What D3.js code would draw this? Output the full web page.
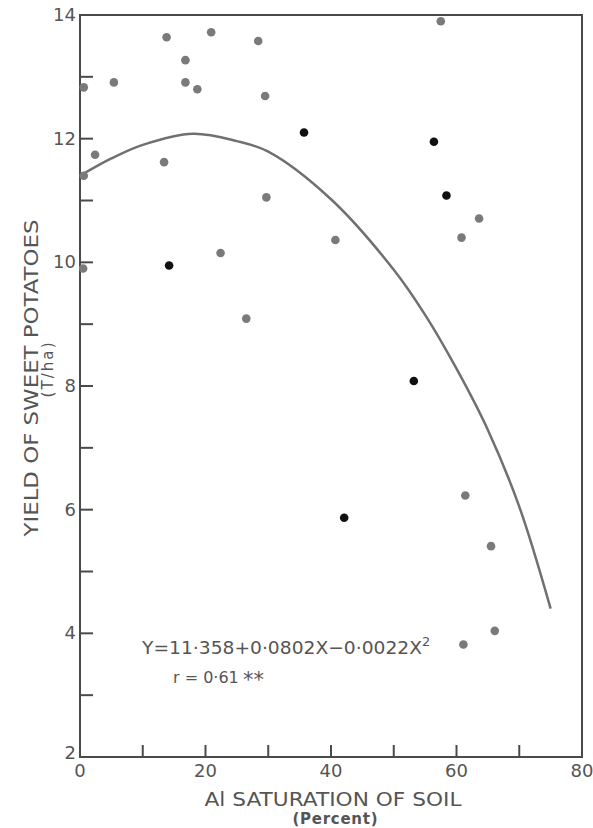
<!DOCTYPE html>
<meta charset="utf-8">
<html lang="en">
<head>
    <title>Yield of sweet potatoes vs Al saturation</title>
    <script src="https://d3js.org/d3.v7.min.js"></script>
    <style>
        body { margin: 0; background: #fff; }
        text { font-family: "DejaVu Sans", sans-serif; fill: #555; }
    </style>
</head>
<body>
    <div id="chart"></div>
    <script>
        // points: [Al saturation %, yield T/ha]
        const grayPoints = [
            [13.8, 13.64], [20.9, 13.72], [28.4, 13.58], [57.5, 13.90],
            [16.8, 13.27], [0.6, 12.83], [5.4, 12.91], [16.8, 12.91],
            [18.7, 12.80], [29.5, 12.69], [2.4, 11.74], [13.4, 11.62],
            [0.6, 11.40], [29.7, 11.05], [40.7, 10.36], [22.4, 10.15],
            [0.5, 9.90], [26.5, 9.09], [63.6, 10.71], [60.8, 10.40],
            [61.4, 6.23], [65.5, 5.41], [66.1, 4.04], [61.1, 3.82]
        ];
        const blackPoints = [
            [35.7, 12.10], [56.4, 11.95], [58.4, 11.08],
            [14.2, 9.95], [53.2, 8.08], [42.1, 5.87]
        ];
        // fitted curve, as drawn
        const curvePoints = [
            [0, 11.40], [5, 11.68], [10, 11.90], [18, 12.08], [25, 11.96],
            [30, 11.79], [40, 11.02], [50, 9.88], [55, 9.15], [60, 8.28],
            [65, 7.29], [70, 6.05], [75, 4.40]
        ];
        const xTickLabels = [0, 20, 40, 60, 80];
        const xTicks = [10, 20, 30, 40, 50, 60, 70];
        const yTickLabels = [2, 4, 6, 8, 10, 12, 14];
        const yTicks = [3, 4, 5, 6, 7, 8, 9, 10, 11, 12, 13];

        const width = 593, height = 828;
        const axisColor = "#4a4a4a";

        const svg = d3.select("#chart").append("svg")
            .attr("width", width)
            .attr("height", height);

        const x = d3.scaleLinear().domain([0, 80]).range([80, 582]);
        const y = d3.scaleLinear().domain([2, 14]).range([757, 15]);

        // frame: left + bottom axes, top + right border
        svg.append("path")
            .attr("d", `M${x(0)},${y(14)}H${x(80)}V${y(2)}H${x(0)}Z`)
            .attr("fill", "none")
            .attr("stroke", axisColor)
            .attr("stroke-width", 2);

        // inward ticks
        svg.append("g").selectAll("line")
            .data(xTicks).enter().append("line")
            .attr("x1", d => x(d)).attr("x2", d => x(d))
            .attr("y1", y(2)).attr("y2", y(2) - 12)
            .attr("stroke", axisColor).attr("stroke-width", 2);

        svg.append("g").selectAll("line")
            .data(yTicks).enter().append("line")
            .attr("x1", x(0)).attr("x2", x(0) + 13)
            .attr("y1", d => y(d)).attr("y2", d => y(d))
            .attr("stroke", axisColor).attr("stroke-width", 2);

        // tick labels
        svg.append("g").selectAll("text")
            .data(xTickLabels).enter().append("text")
            .attr("x", d => x(d))
            .attr("y", y(2) + 20)
            .attr("text-anchor", "middle")
            .style("font-size", "18px")
            .text(d => d);

        svg.append("g").selectAll("text")
            .data(yTickLabels).enter().append("text")
            .attr("x", x(0) - 4)
            .attr("y", d => y(d) + (d === 2 ? 2 : 6))
            .attr("text-anchor", "end")
            .style("font-size", "18px")
            .text(d => d);

        // axis titles
        svg.append("text")
            .attr("x", 333).attr("y", 806)
            .attr("text-anchor", "middle")
            .style("font-size", "19px")
            .attr("textLength", 257)
            .attr("lengthAdjust", "spacingAndGlyphs")
            .text("Al SATURATION OF SOIL");
        svg.append("text")
            .attr("x", 335).attr("y", 824)
            .attr("text-anchor", "middle")
            .style("font-size", "15px")
            .style("font-weight", "bold")
            .attr("textLength", 85)
            .text("(Percent)");

        svg.append("text")
            .attr("transform", "translate(38,378) rotate(-90)")
            .attr("text-anchor", "middle")
            .style("font-size", "19px")
            .attr("textLength", 317)
            .attr("lengthAdjust", "spacingAndGlyphs")
            .text("YIELD OF SWEET POTATOES");
        svg.append("text")
            .attr("transform", "translate(53,370) rotate(-90)")
            .attr("text-anchor", "middle")
            .style("font-size", "15px")
            .attr("textLength", 55)
            .text("(T/ha)");

        // regression curve
        const line = d3.line()
            .x(d => x(d[0]))
            .y(d => y(d[1]))
            .curve(d3.curveCatmullRom);

        svg.append("path")
            .datum(curvePoints)
            .attr("d", line)
            .attr("fill", "none")
            .attr("stroke", "#707070")
            .attr("stroke-width", 2.5);

        // points
        svg.append("g").selectAll("circle")
            .data(grayPoints).enter().append("circle")
            .attr("cx", d => x(d[0]))
            .attr("cy", d => y(d[1]))
            .attr("r", 4.3)
            .attr("fill", "#7a7a7a");

        svg.append("g").selectAll("circle")
            .data(blackPoints).enter().append("circle")
            .attr("cx", d => x(d[0]))
            .attr("cy", d => y(d[1]))
            .attr("r", 4.3)
            .attr("fill", "#111");

        // equation
        const eq = svg.append("text")
            .attr("x", 142).attr("y", 654)
            .style("font-size", "18px");
        eq.append("tspan")
            .attr("textLength", 280)
            .attr("lengthAdjust", "spacingAndGlyphs")
            .text("Y=11·358+0·0802X−0·0022X");
        eq.append("tspan").attr("dy", -8).style("font-size", "13px").text("2");

        svg.append("text")
            .attr("x", 173).attr("y", 683)
            .style("font-size", "16px")
            .text("r = 0·61");
        svg.append("text")
            .attr("x", 243).attr("y", 687)
            .style("font-size", "21px")
            .text("**");
    </script>
</body>
</html>
